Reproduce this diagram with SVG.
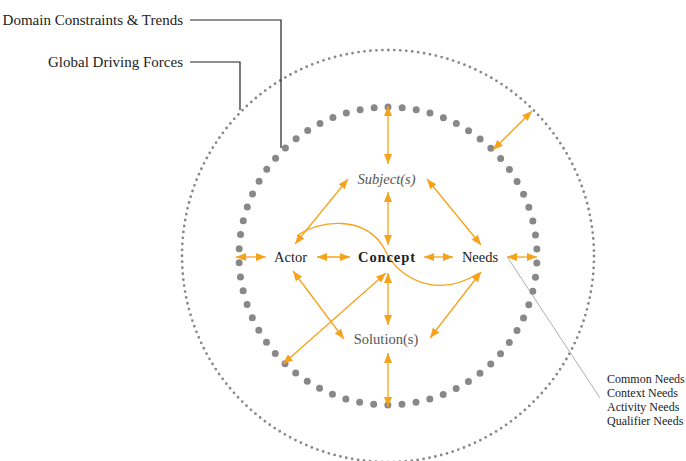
<svg xmlns="http://www.w3.org/2000/svg" width="686" height="461" viewBox="0 0 686 461">
<style>
  text { font-family: "Liberation Serif", "Times New Roman", serif; fill: #222; }
  .lbl { font-size: 14.5px; text-anchor: middle; }
  .gray { fill: #555; }
  .side { font-size: 15px; text-anchor: end; }
  .list { font-size: 12px; }
  .arr { stroke: #F7A21B; stroke-width: 1.3; fill: none; marker-start: url(#ah); marker-end: url(#ah); }
  .curve { stroke: #F7A21B; stroke-width: 1.3; fill: none; }
  .lead { stroke: #222; stroke-width: 1.2; fill: none; }
</style>
<defs>
  <marker id="ah" viewBox="0 0 10 8" refX="10" refY="4" markerWidth="10" markerHeight="8" markerUnits="userSpaceOnUse" orient="auto-start-reverse">
    <path d="M0,0 L10,4 L0,8 z" fill="#F7A21B"/>
  </marker>
</defs>
<rect width="686" height="461" fill="#fff"/>

<g id="outer-ring">
  <circle cx="388" cy="256" r="206" fill="none" stroke="#888" stroke-width="2.8" stroke-linecap="round" stroke-dasharray="0 5.992"/>
</g>
<g id="inner-ring">
  <circle cx="388" cy="256" r="149" fill="none" stroke="#888" stroke-width="7" stroke-linecap="round" stroke-dasharray="0 14.184" transform="rotate(-90 388 256)"/>
</g>

<g id="connectors">
  <line class="arr" x1="388" y1="106" x2="388" y2="164"/>
  <line class="arr" x1="388" y1="192" x2="388" y2="245"/>
  <line class="arr" x1="295" y1="244" x2="348" y2="179"/>
  <line class="arr" x1="427" y1="179" x2="481" y2="245"/>
  <line class="arr" x1="236" y1="257" x2="266" y2="257"/>
  <line class="arr" x1="317" y1="257" x2="350" y2="257"/>
  <line class="arr" x1="424" y1="257" x2="453" y2="257"/>
  <line class="arr" x1="507" y1="257" x2="537" y2="257"/>
  <line class="arr" x1="493" y1="150" x2="532" y2="111"/>
  <line class="arr" x1="293" y1="271" x2="344" y2="339"/>
  <line class="arr" x1="386" y1="273" x2="283" y2="364"/>
  <line class="arr" x1="388" y1="273" x2="388" y2="325"/>
  <line class="arr" x1="481" y1="272" x2="430" y2="338"/>
  <line class="arr" x1="388" y1="353" x2="388" y2="407"/>
  <path class="curve" d="M297 236 C318 220, 366 214, 385 250 C400 282, 440 298, 479 273"/>
  <line x1="508" y1="258" x2="600" y2="398" stroke="#999" stroke-width="0.8"/>
  <path class="lead" d="M190 20 H281 V148"/>
  <path class="lead" d="M190 62 H240 V110" stroke="#444"/>
</g>

<g id="domain-label">
  <text class="side" x="183" y="25">Domain Constraints &amp; Trends</text>
</g>
<g id="global-label">
  <text class="side" x="183" y="67">Global Driving Forces</text>
</g>
<g id="subject">
  <text class="lbl gray" x="386.5" y="184" font-style="italic" font-size="15">Subject(s)</text>
</g>
<g id="actor">
  <text class="lbl" x="290.5" y="262">Actor</text>
</g>
<g id="concept">
  <text class="lbl" x="386.5" y="262" font-weight="bold" font-size="15" textLength="57">Concept</text>
</g>
<g id="needs">
  <text class="lbl" x="480" y="262">Needs</text>
</g>
<g id="solution">
  <text class="lbl gray" x="386" y="344" font-size="14.8">Solution(s)</text>
</g>
<g id="needs-list">
  <text class="list" x="607" y="383">Common Needs</text>
  <text class="list" x="607" y="397">Context Needs</text>
  <text class="list" x="607" y="411">Activity Needs</text>
  <text class="list" x="607" y="425">Qualifier Needs</text>
</g>
</svg>
